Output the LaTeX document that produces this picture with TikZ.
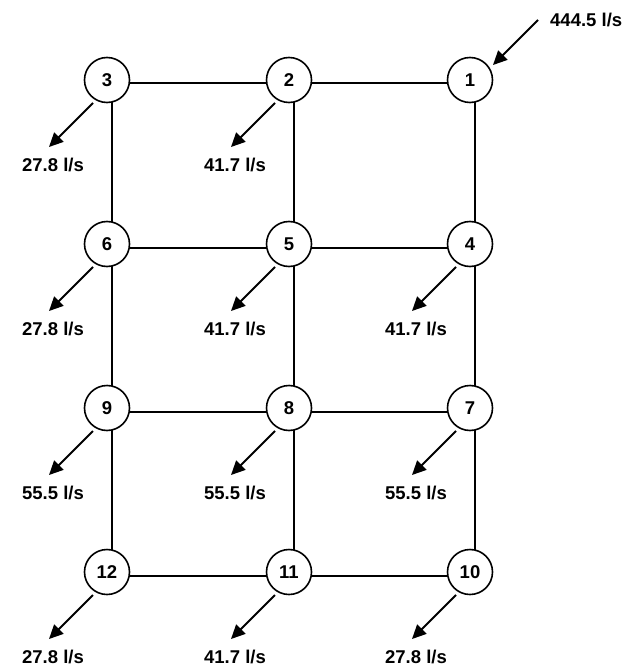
\documentclass[tikz,border=0pt]{standalone}
\usepackage{fontspec}
\setmainfont{Liberation Sans}
\usetikzlibrary{arrows.meta,backgrounds}
\tikzset{
  nd/.style={circle,draw=black,line width=1.6pt,fill=white,minimum size=45pt,inner sep=0pt,font=\fontsize{18.5}{21}\selectfont\bfseries},
  ln/.style={draw=black,line width=1.8pt},
  dem/.style={draw=black,line width=1.8pt,-{Triangle[length=14pt,width=13pt]}},
  lbl/.style={inner sep=0pt,font=\fontsize{18.5}{21}\selectfont\bfseries}
}
\begin{document}
\begin{tikzpicture}[x=1pt,y=-1pt]
\useasboundingbox (0,0) rectangle (631,668);
% nodes
\node[nd] (n3) at (107,80) {3};
\node[nd] (n2) at (289,80) {2};
\node[nd] (n1) at (470,80) {1};
\node[nd] (n6) at (107,244) {6};
\node[nd] (n5) at (289,244) {5};
\node[nd] (n4) at (470,244) {4};
\node[nd] (n9) at (107,408) {9};
\node[nd] (n8) at (289,408) {8};
\node[nd] (n7) at (470,408) {7};
\node[nd] (n12) at (107,572) {12};
\node[nd] (n11) at (289,572) {11};
\node[nd] (n10) at (470,572) {10};
% pipes
\begin{scope}[on background layer]
\foreach \a/\b in {n3/n2,n2/n1}
  \draw[ln] ([shift={(0,3)}]\a.center) -- ([shift={(0,3)}]\b.center);
\foreach \a/\b in {n6/n5,n5/n4,n9/n8,n8/n7,n12/n11,n11/n10}
  \draw[ln] ([shift={(0,4)}]\a.center) -- ([shift={(0,4)}]\b.center);
\foreach \a/\b in {n3/n6,n6/n9,n9/n12,n2/n5,n5/n8,n8/n11,n1/n4,n4/n7,n7/n10}
  \draw[ln] ([shift={(5,0)}]\a.center) -- ([shift={(5,0)}]\b.center);
\end{scope}
% demands
\foreach \n/\t in {n3/27.8,n2/41.7,n6/27.8,n5/41.7,n4/41.7,n9/55.5,n8/55.5,n7/55.5,n12/27.8,n11/41.7,n10/27.8}{
  \coordinate (t\n) at ([shift={(-58,67)}]\n.center);
  \draw[dem] ([shift={(-14,23)}]\n.center) -- (t\n);
  \node[lbl] (d\n) at ([shift={(-54,85)}]\n.center) {\t{} l/s};
}
% supply
\coordinate (s1) at ([shift={(68,-60)}]n1.center);
\draw[dem] (s1) -- ([shift={(23,-15)}]n1.center);
\node[lbl,anchor=west] (q1) at (550,20) {444.5 l/s};
\end{tikzpicture}
\end{document}
